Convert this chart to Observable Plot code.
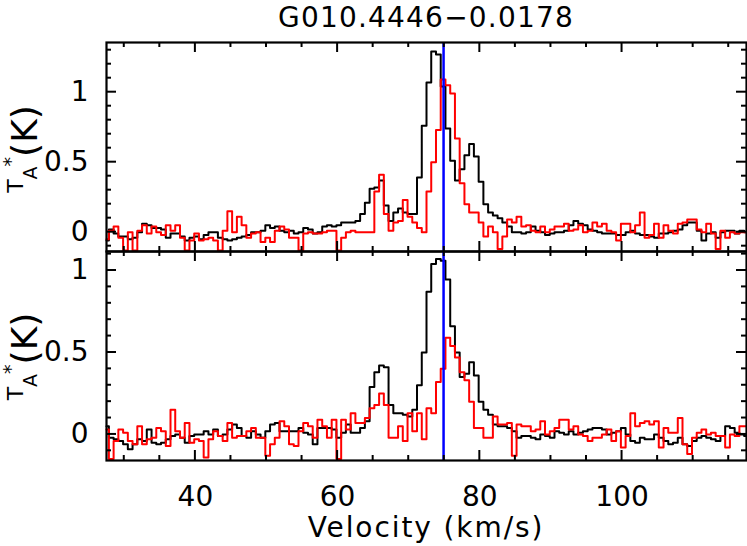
<!DOCTYPE html>
<html><head><meta charset="utf-8">
<script src="https://cdn.jsdelivr.net/npm/d3@7"></script>
<script src="https://cdn.jsdelivr.net/npm/@observablehq/plot@0.6"></script>
<style>
body{margin:0;background:#fff;}
#chart{position:relative;width:747px;height:546px;overflow:hidden;background:#fff;}
#chart svg{position:absolute;left:0;overflow:visible;}
</style></head><body><div id="chart"></div>
<script>
const title = "G010.4446\u22120.0178";
const xLabel = "Velocity (km/s)";
const velocity = [
27.5,28.17,28.83,29.5,30.17,30.83,31.5,32.17,32.83,33.5,
34.17,34.83,35.5,36.17,36.83,37.5,38.17,38.83,39.5,40.17,
40.83,41.5,42.17,42.83,43.5,44.17,44.83,45.5,46.17,46.83,
47.5,48.17,48.83,49.5,50.17,50.83,51.5,52.17,52.83,53.5,
54.17,54.83,55.5,56.17,56.83,57.5,58.17,58.83,59.5,60.17,
60.83,61.5,62.17,62.83,63.5,64.17,64.83,65.5,66.17,66.83,
67.5,68.17,68.83,69.5,70.17,70.83,71.5,72.17,72.83,73.5,
74.17,74.83,75.5,76.17,76.83,77.5,78.17,78.83,79.5,80.17,
80.83,81.5,82.17,82.83,83.5,84.17,84.83,85.5,86.17,86.83,
87.5,88.17,88.83,89.5,90.17,90.83,91.5,92.17,92.83,93.5,
94.17,94.83,95.5,96.17,96.83,97.5,98.17,98.83,99.5,100.17,
100.83,101.5,102.17,102.83,103.5,104.17,104.83,105.5,106.17,106.83,
107.5,108.17,108.83,109.5,110.17,110.83,111.5,112.17,112.83,113.5,
114.17,114.83,115.5,116.17,116.83,117.5];
const topBlack = [
-0.06,0.02,-0.01,-0.03,-0.03,-0.05,-0.04,0.00,0.06,0.05,
0.03,0.03,0.02,-0.04,-0.01,-0.01,-0.03,-0.06,-0.04,-0.03,
-0.05,-0.02,0.00,0.00,-0.04,-0.05,-0.06,-0.05,-0.04,-0.03,
-0.02,0.00,0.00,0.01,0.05,0.03,0.04,0.01,0.00,0.01,
-0.01,0.00,0.03,0.02,-0.01,0.00,0.04,0.05,0.04,0.05,
0.07,0.07,0.07,0.08,0.13,0.21,0.31,0.32,0.37,0.19,
0.08,0.14,0.17,0.14,0.13,0.13,0.39,0.76,1.07,1.29,
1.27,1.04,0.74,0.51,0.37,0.45,0.55,0.63,0.54,0.36,
0.20,0.14,0.12,0.10,0.07,0.04,0.00,0.00,-0.01,0.00,
0.04,0.01,0.00,-0.02,-0.01,0.00,0.00,0.01,0.05,0.08,
0.06,0.05,0.02,0.01,0.00,-0.01,-0.01,-0.01,-0.02,-0.02,
0.00,0.01,-0.01,-0.02,-0.02,-0.03,-0.04,-0.01,-0.01,0.00,
0.01,0.02,0.05,0.07,0.07,0.01,-0.06,-0.01,0.00,-0.04,
0.00,0.01,0.01,-0.01,0.01,0.00];
const topRed = [
-0.05,0.01,0.04,-0.04,-0.13,0.00,-0.13,0.01,0.05,-0.01,
0.04,0.00,-0.02,0.05,0.01,0.05,-0.04,-0.13,-0.06,-0.01,
-0.06,-0.05,-0.04,-0.06,-0.13,0.01,0.15,0.00,0.11,0.05,
-0.04,-0.01,0.00,-0.07,-0.04,-0.07,0.01,0.04,0.02,-0.04,
-0.04,-0.13,-0.01,0.00,-0.01,-0.01,0.00,0.01,0.01,-0.13,
-0.04,0.00,0.01,0.00,0.00,0.00,0.00,0.29,0.41,0.13,
0.01,0.07,0.08,0.23,0.11,0.07,0.03,0.00,0.29,0.50,
0.73,1.09,1.05,0.99,0.67,0.35,0.20,0.14,0.14,0.07,
-0.03,0.04,0.00,-0.12,-0.03,0.09,0.07,0.11,0.04,0.05,
0.01,0.00,0.04,0.00,0.02,0.04,0.04,0.06,0.01,0.02,
0.05,0.00,0.01,0.07,0.04,0.06,0.01,0.00,-0.06,0.06,
0.06,0.00,0.05,0.14,-0.04,-0.02,0.06,-0.04,0.05,0.01,
-0.01,0.06,0.07,0.09,0.09,0.02,0.00,0.06,-0.01,-0.12,
0.01,-0.04,0.00,-0.01,0.00,0.00];
const bottomBlack = [
0.05,-0.02,-0.03,-0.04,-0.06,-0.09,-0.06,-0.03,-0.04,0.03,
-0.05,-0.06,-0.05,-0.03,-0.01,0.00,-0.02,-0.05,-0.01,0.00,
0.00,0.02,0.00,0.03,-0.01,0.00,0.03,0.06,0.04,-0.01,
-0.02,0.02,0.00,-0.02,0.02,0.06,0.07,0.02,0.02,0.02,
0.02,0.04,0.01,0.00,-0.06,0.04,0.04,0.04,0.03,-0.02,
0.01,0.06,0.01,0.01,0.04,0.08,0.29,0.38,0.42,0.41,
0.18,0.13,0.13,0.12,0.11,0.15,0.30,0.50,0.87,1.04,
1.07,1.06,0.945,0.66,0.50,0.35,0.37,0.44,0.36,0.20,
0.15,0.12,0.06,0.05,0.05,0.04,0.02,-0.02,-0.01,-0.01,
-0.02,-0.03,0.00,-0.01,-0.02,0.02,0.01,0.00,0.02,0.00,
0.01,0.02,0.03,0.04,0.04,0.03,0.00,0.01,0.02,0.04,
0.00,-0.04,-0.05,-0.02,-0.03,-0.03,0.00,-0.02,-0.04,-0.06,
-0.05,-0.02,-0.06,-0.07,-0.04,-0.02,-0.01,-0.02,-0.03,-0.04,
-0.01,0.05,0.04,0.01,0.00,-0.01];
const bottomRed = [
0.03,-0.15,-0.04,0.03,0.01,-0.04,-0.06,0.05,-0.06,-0.03,
-0.02,0.04,0.02,-0.07,0.15,0.02,-0.02,0.07,-0.05,-0.03,
-0.04,-0.14,-0.03,0.02,-0.01,-0.04,0.07,-0.02,-0.01,-0.01,
0.02,0.04,-0.02,-0.02,-0.13,-0.06,-0.02,0.08,0.05,-0.06,
-0.07,0.02,0.07,0.05,-0.02,0.09,0.05,-0.02,0.09,-0.15,
0.09,0.03,0.13,0.07,0.07,0.10,0.16,0.18,0.25,0.18,
-0.02,-0.02,0.05,-0.04,0.13,0.02,0.13,-0.03,0.16,0.13,
0.32,0.40,0.59,0.54,0.47,0.38,0.33,0.20,0.04,0.04,
-0.02,-0.02,0.11,0.06,0.06,0.07,-0.13,0.06,0.05,0.05,
0.02,0.03,0.08,0.00,0.02,0.04,0.09,0.09,0.03,0.05,
0.00,-0.01,-0.04,-0.02,-0.02,0.00,0.03,-0.04,0.02,-0.08,
-0.01,0.13,0.05,0.07,0.08,0.06,0.08,-0.08,0.04,0.01,
0.01,0.10,-0.06,-0.12,-0.02,0.01,0.03,0.00,0.01,-0.01,
-0.01,-0.08,0.00,-0.01,0.05,0.05];
const vlsr = 74.9;
const xDomain = [27.5, 117.5];
const topDomain = [-0.138, 1.355];
const bottomDomain = [-0.159, 1.116];
const xMajor = [40, 60, 80, 100];
const xMinor = [30, 35, 45, 50, 55, 65, 70, 75, 85, 90, 95, 105, 110, 115];
const yMajor = [0, 0.5, 1];
const yMinorTop = [-0.1, 0.1, 0.2, 0.3, 0.4, 0.6, 0.7, 0.8, 0.9, 1.1, 1.2, 1.3];
const yMinorBottom = [-0.1, 0.1, 0.2, 0.3, 0.4, 0.6, 0.7, 0.8, 0.9, 1.1];

const FONT = "DejaVu Sans";
const W = 747, ML = 106, MR = 1;
const FRAME_H = 209;

function panel({black, red, yDomain, marginTop, marginBottom, showX}) {
  const rows = velocity.map((v, i) => ({v, b: black[i], r: red[i]}));
  const marks = [
    Plot.line(rows, {x: "v", y: "b", curve: "step", stroke: "black", strokeWidth: 2}),
    Plot.line(rows, {x: "v", y: "r", curve: "step", stroke: "#ff0000", strokeWidth: 2}),
    Plot.ruleX([vlsr], {stroke: "#0000ff", strokeWidth: 2.5}),
    Plot.frame({stroke: "black", strokeWidth: 2.2}),
    Plot.axisY({anchor: "left", ticks: yMajor, tickFormat: (d) => String(d), tickSize: 0, tickPadding: 18, fontSize: 28, fill: "black", label: null})
  ];
  if (showX) marks.push(Plot.axisX({anchor: "bottom", ticks: xMajor, tickFormat: (d) => String(d), tickSize: 0, tickPadding: 26, fontSize: 28, fill: "black", label: null}));
  return Plot.plot({
    width: W, height: marginTop + FRAME_H + marginBottom,
    marginLeft: ML, marginRight: MR, marginTop, marginBottom,
    x: {domain: xDomain, axis: null},
    y: {domain: yDomain, axis: null},
    style: {fontFamily: FONT, fontSize: "28px", color: "black", background: "transparent", overflow: "visible"},
    marks
  });
}

// inward ticks on all four sides, placed with the plot's own x and y scales
function addTicks(svg, yMinor) {
  const sx = svg.scale("x"), sy = svg.scale("y");
  const left = Math.min(...sx.range), right = Math.max(...sx.range);
  const topY = Math.min(...sy.range), botY = Math.max(...sy.range);
  const g = d3.select(svg).append("g").attr("stroke", "black").attr("stroke-width", 2).attr("fill", "none");
  for (const [ticks, len] of [[xMajor, 10], [xMinor, 5]]) {
    for (const v of ticks) {
      const x = sx.apply(v);
      g.append("line").attr("x1", x).attr("x2", x).attr("y1", topY).attr("y2", topY + len);
      g.append("line").attr("x1", x).attr("x2", x).attr("y1", botY).attr("y2", botY - len);
    }
  }
  for (const [ticks, len] of [[yMajor, 10], [yMinor, 5]]) {
    for (const v of ticks) {
      const y = sy.apply(v);
      g.append("line").attr("x1", left).attr("x2", left + len).attr("y1", y).attr("y2", y);
      g.append("line").attr("x1", right).attr("x2", right - len).attr("y1", y).attr("y2", y);
    }
  }
}

function addYLabel(svg, cy) {
  const t = d3.select(svg).append("text")
    .attr("transform", `translate(22.5,${cy}) rotate(-90)`)
    .attr("text-anchor", "middle")
    .attr("font-family", FONT).attr("font-size", 22).attr("fill", "black");
  t.append("tspan").text("T");
  t.append("tspan").attr("font-size", 19).attr("dy", 14).text("A");
  t.append("tspan").attr("font-size", 19).attr("dy", -20).text("*");
  t.append("tspan").attr("font-size", 36).attr("dy", 20).text("(K)");
}

const chartDiv = document.getElementById("chart");
const topSvg = panel({black: topBlack, red: topRed, yDomain: topDomain, marginTop: 42, marginBottom: 1, showX: false});
topSvg.style.top = "0px";
const bottomSvg = panel({black: bottomBlack, red: bottomRed, yDomain: bottomDomain, marginTop: 1, marginBottom: 86, showX: true});
bottomSvg.style.top = "250px";
chartDiv.appendChild(topSvg);
chartDiv.appendChild(bottomSvg);
addTicks(topSvg, yMinorTop);
addTicks(bottomSvg, yMinorBottom);

d3.select(topSvg).append("text")
  .attr("x", 426).attr("y", 27).attr("text-anchor", "middle")
  .attr("font-family", FONT).attr("font-size", 28).attr("letter-spacing", "1.2px")
  .attr("fill", "black").text(title);
addYLabel(topSvg, 149);
addYLabel(bottomSvg, 106.5);
d3.select(bottomSvg).append("text")
  .attr("x", 426).attr("y", 287).attr("text-anchor", "middle")
  .attr("font-family", FONT).attr("font-size", 28).attr("letter-spacing", "1.9px")
  .attr("fill", "black").text(xLabel);
</script>
</body></html>
